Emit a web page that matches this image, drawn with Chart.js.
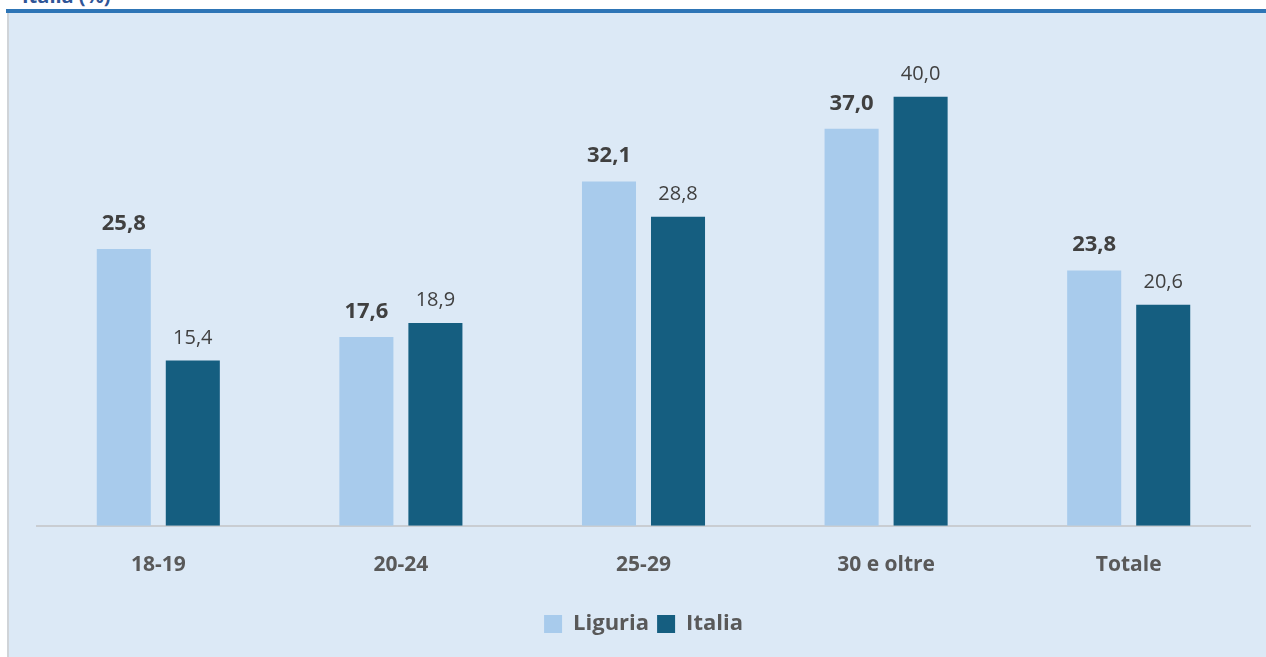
<!DOCTYPE html>
<html>
<head>
<meta charset="utf-8">
<script src="https://cdn.jsdelivr.net/npm/chart.js@4"></script>
<style>
  html, body { margin: 0; padding: 0; background: #fff; width: 1266px; height: 657px; overflow: hidden; }
  #title { position: absolute; left: 22px; top: -18px; font: bold 20px 'Open Sans', sans-serif; color: #2f5597; }
  #rule { position: absolute; left: 6px; right: 0; top: 9px; height: 4px; background: #2e75b6; }
  #panel { position: absolute; left: 7px; right: 0; top: 13px; bottom: 0; background: #dce9f6; border-left: 2px solid #d0d4d8; }
  #wrap { position: absolute; left: 8px; top: 13px; width: 1258px; height: 644px; }
</style>
</head>
<body>
<div id="title">Italia (%)</div>
<div id="rule"></div>
<div id="panel"></div>
<div id="wrap"><canvas id="chart"></canvas></div>
<script>
/* ── data ── */
const categories = ['18-19', '20-24', '25-29', '30 e oltre', 'Totale'];
const liguria = [25.8, 17.6, 32.1, 37.0, 23.8];
const italia = [15.4, 18.9, 28.8, 40.0, 20.6];

const COL = { liguria: '#a8cbec', italia: '#155e80', text: '#404040', axis: '#595959' };

/* value labels above the bars */
const valueLabels = {
  id: 'valueLabels',
  afterDatasetsDraw(chart) {
    const ctx = chart.ctx;
    ctx.save();
    ctx.textAlign = 'center';
    ctx.textBaseline = 'alphabetic';
    chart.data.datasets.forEach((ds, i) => {
      const bold = i === 0;
      ctx.font = bold ? 'bold 22px "Open Sans", sans-serif' : '20px "Open Sans", sans-serif';
      ctx.fillStyle = COL.text;
      chart.getDatasetMeta(i).data.forEach((bar, j) => {
        const txt = ds.data[j].toFixed(1).replace('.', ',');
        ctx.fillText(txt, bar.x, bar.y - (bold ? 19 : 17));
      });
    });
    ctx.restore();
  }
};

new Chart(document.getElementById('chart'), {
  type: 'bar',
  data: {
    labels: categories,
    datasets: [
      { label: 'Liguria', data: liguria, backgroundColor: COL.liguria, categoryPercentage: 0.569, barPercentage: 0.783 },
      { label: 'Italia', data: italia, backgroundColor: COL.italia, categoryPercentage: 0.569, barPercentage: 0.783 }
    ]
  },
  options: {
    responsive: true, maintainAspectRatio: false, animation: false,
    layout: { padding: { left: 29, right: 16, top: 30, bottom: 12 } },
    plugins: {
      tooltip: { enabled: false },
      legend: {
        position: 'bottom',
        labels: {
          font: { family: 'Open Sans', size: 22, weight: 'bold' }, color: COL.axis,
          boxWidth: 18, boxHeight: 18, padding: 8
        }
      }
    },
    scales: {
      x: {
        grid: { display: false, drawTicks: false },
        border: { display: true, color: '#c9cdd2', width: 2 },
        ticks: { font: { family: 'Open Sans', size: 21, weight: 'bold' }, color: COL.axis, padding: 27 }
      },
      y: { display: false, min: 0, max: 45 }
    }
  },
  plugins: [valueLabels]
});
</script>
</body>
</html>
